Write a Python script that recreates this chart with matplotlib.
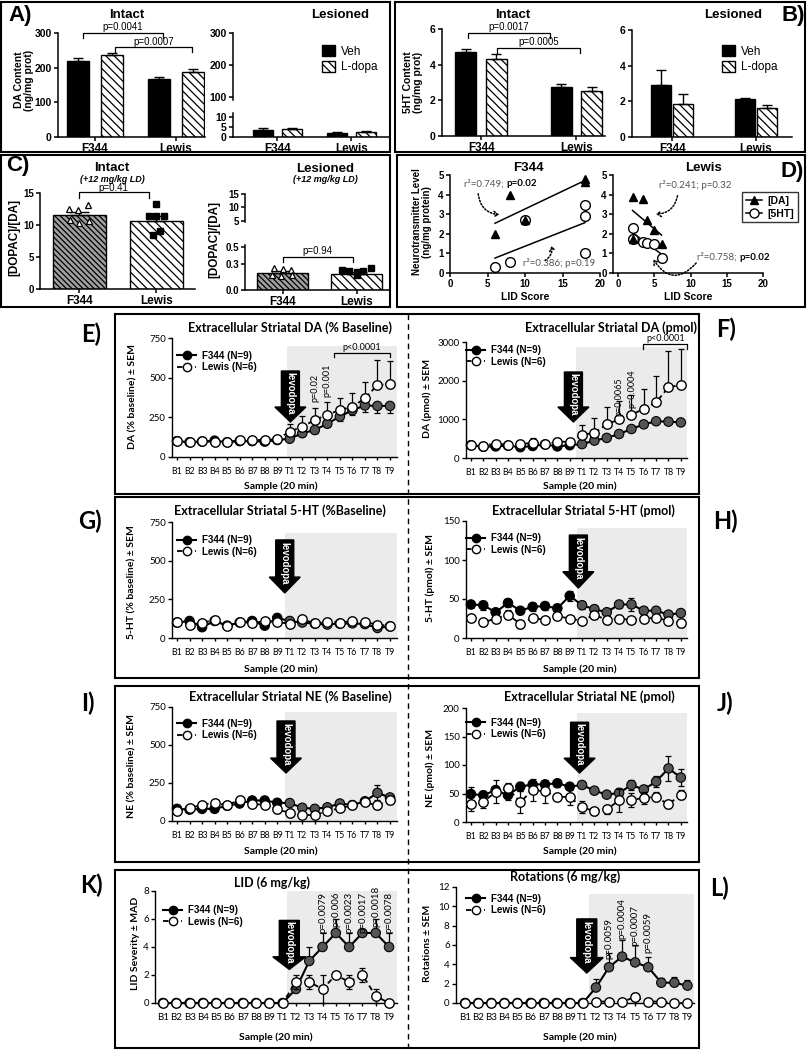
import numpy as np
import matplotlib
matplotlib.use('Agg')
import matplotlib.pyplot as plt
from matplotlib.patches import Rectangle, Polygon, Patch, FancyArrowPatch
from matplotlib.lines import Line2D

plt.rcParams['hatch.linewidth'] = 0.9
F_SANS = ['Liberation Sans', 'DejaVu Sans']
F_CAL = ['Lato', 'DejaVu Sans']
plt.rcParams['font.family'] = F_SANS

# ======================= DATA =======================
groups = ['F344', 'Lewis']
treatments = ['Veh', 'L-dopa']

A_intact_veh = [218, 168]
A_intact_veh_sem = [9, 4]
A_intact_ldopa = [237, 188]
A_intact_ldopa_sem = [5, 8]
A_les_veh = [3.5, 2.0]
A_les_veh_sem = [1.2, 0.4]
A_les_ldopa = [4.0, 2.6]
A_les_ldopa_sem = [0.4, 0.3]
A_pvals = ['p=0.0041', 'p=0.0007']

B_intact_veh = [4.72, 2.75]
B_intact_veh_sem = [0.15, 0.18]
B_intact_ldopa = [4.3, 2.5]
B_intact_ldopa_sem = [0.3, 0.25]
B_les_veh = [2.9, 2.15]
B_les_veh_sem = [0.85, 0.05]
B_les_ldopa = [1.85, 1.6]
B_les_ldopa_sem = [0.55, 0.2]
B_pvals = ['p=0.0017', 'p=0.0005']

C_intact_mean = [11.6, 10.7]
C_intact_sem = [0.5, 0.7]
C_intact_f344_pts = [12.5, 12.4, 13.1, 10.8, 10.3, 10.7]
C_intact_lewis_pts = [13.3, 11.4, 11.4, 11.4, 8.5, 9.0]
C_les_mean = [0.20, 0.19]
C_les_sem = [0.02, 0.02]
C_les_f344_pts = [0.25, 0.24, 0.23, 0.17, 0.16, 0.17]
C_les_lewis_pts = [0.23, 0.22, 0.21, 0.22, 0.26, 0.17]
C_pvals = ['p=0.41', 'p=0.94']

D_f344_lid_da = [6, 8, 10, 18, 18]
D_f344_da = [2.0, 4.0, 2.7, 4.8, 4.65]
D_f344_lid_5ht = [6, 8, 10, 18, 18, 18]
D_f344_5ht = [0.3, 0.55, 2.7, 3.45, 2.9, 1.0]
D_lewis_lid_da = [2, 3.5, 4, 5, 6, 2]
D_lewis_da = [3.9, 3.8, 2.7, 2.2, 1.5, 1.75]
D_lewis_lid_5ht = [2, 2, 3.5, 4, 5, 6]
D_lewis_5ht = [2.3, 1.75, 1.6, 1.55, 1.5, 0.75]
D_f344_da_stat = ['r²=0.749; ', 'p=0.02']
D_f344_5ht_stat = 'r²=0.386; p=0.19'
D_lewis_da_stat = 'r²=0.241; p=0.32'
D_lewis_5ht_stat = ['r²=0.758; ', 'p=0.02']

samples = ['B1', 'B2', 'B3', 'B4', 'B5', 'B6', 'B7', 'B8', 'B9',
           'T1', 'T2', 'T3', 'T4', 'T5', 'T6', 'T7', 'T8', 'T9']
legend_labels = ['F344 (N=9)', 'Lewis (N=6)']

E_f344 = [100, 93, 97, 103, 93, 100, 100, 97, 107, 115, 150, 170, 210, 255, 295, 325, 322, 322]
E_f344_sem = [8, 8, 8, 8, 8, 8, 8, 8, 8, 10, 15, 18, 20, 25, 30, 40, 45, 45]
E_lewis = [100, 93, 100, 93, 93, 107, 107, 107, 113, 160, 191, 233, 267, 296, 317, 370, 454, 458]
E_lewis_sem = [8, 8, 8, 8, 8, 8, 8, 8, 10, 45, 65, 75, 80, 75, 85, 100, 155, 150]

F_f344 = [330, 290, 300, 320, 280, 310, 350, 300, 330, 360, 450, 520, 620, 750, 870, 950, 940, 920]
F_f344_sem = [30, 30, 30, 30, 30, 30, 30, 30, 30, 40, 45, 50, 55, 60, 65, 70, 70, 70]
F_lewis = [340, 320, 370, 340, 350, 400, 360, 420, 420, 600, 650, 870, 1000, 1120, 1270, 1440, 1830, 1890]
F_lewis_sem = [60, 60, 80, 60, 60, 110, 60, 90, 80, 250, 390, 450, 470, 500, 520, 690, 950, 920]

G_f344 = [100, 110, 70, 110, 80, 100, 110, 80, 130, 110, 100, 93, 87, 93, 95, 90, 65, 75]
G_f344_sem = [12, 12, 12, 12, 12, 12, 12, 12, 15, 12, 12, 12, 12, 12, 12, 12, 12, 12]
G_lewis = [105, 85, 100, 115, 75, 105, 95, 110, 105, 90, 120, 95, 105, 100, 110, 105, 85, 80]
G_lewis_sem = [12, 12, 12, 12, 12, 12, 12, 12, 12, 12, 15, 12, 12, 12, 12, 12, 12, 12]

H_f344 = [43, 42, 33, 45, 35, 40, 41, 38, 54, 42, 37, 33, 43, 43, 35, 35, 30, 32]
H_f344_sem = [5, 6, 4, 5, 4, 5, 5, 5, 6, 5, 5, 5, 5, 8, 5, 4, 4, 4]
H_lewis = [26, 20, 25, 30, 18, 26, 23, 28, 25, 22, 30, 23, 25, 23, 25, 26, 22, 19]
H_lewis_sem = [4, 4, 3, 6, 5, 4, 4, 4, 3, 4, 5, 5, 4, 3, 4, 4, 4, 5]

I_f344 = [80, 75, 80, 80, 100, 115, 135, 135, 120, 118, 87, 80, 90, 115, 105, 130, 185, 155]
I_f344_sem = [12, 10, 10, 12, 12, 12, 12, 12, 12, 15, 15, 12, 12, 15, 12, 20, 50, 25]
I_lewis = [63, 85, 106, 120, 102, 141, 113, 106, 76, 54, 37, 41, 63, 85, 102, 124, 102, 135]
I_lewis_sem = [15, 12, 15, 20, 12, 15, 15, 20, 25, 25, 20, 20, 15, 15, 15, 20, 20, 20]

J_f344 = [49, 47, 56, 47, 62, 66, 66, 68, 62, 65, 55, 48, 51, 65, 57, 71, 94, 78]
J_f344_sem = [12, 8, 8, 8, 8, 6, 6, 6, 6, 6, 6, 5, 8, 8, 8, 10, 22, 15]
J_lewis = [32, 35, 53, 59, 35, 56, 54, 44, 44, 26, 19, 22, 38, 39, 42, 44, 31, 48]
J_lewis_sem = [12, 10, 20, 10, 20, 20, 20, 6, 15, 10, 6, 8, 20, 12, 10, 8, 6, 8]

K_f344 = [0, 0, 0, 0, 0, 0, 0, 0, 0, 0, 1, 3, 4, 5, 4, 5, 5, 4]
K_f344_mad = [0, 0, 0, 0, 0, 0, 0, 0, 0, 0, 0, 1, 1, 1, 1, 0, 1, 1]
K_lewis = [0, 0, 0, 0, 0, 0, 0, 0, 0, 0, 1.5, 1.5, 1.0, 2.0, 1.5, 2.0, 0.5, 0]
K_lewis_mad = [0, 0, 0, 0, 0, 0, 0, 0, 0, 0, 0.5, 0.5, 1.0, 0, 0.5, 0.5, 0.5, 0]
K_pvals = ['p=0.0079', 'p=0.006', 'p=0.0023', 'p=0.0017', 'p=0.0018', 'p=0.0078']

L_f344 = [0, 0, 0, 0, 0, 0, 0, 0, 0, 0, 1.6, 3.7, 4.8, 4.2, 3.7, 2.1, 2.1, 1.8]
L_f344_sem = [0, 0, 0, 0, 0, 0, 0, 0, 0, 0, 0.9, 1.5, 1.7, 1.8, 1.1, 0.5, 0.6, 0.6]
L_lewis = [0, 0, 0, 0, 0, 0, 0, 0, 0, 0, 0.15, 0.15, 0.15, 0.6, 0.15, 0.15, 0, 0]
L_lewis_sem = [0, 0, 0, 0, 0, 0, 0, 0, 0, 0, 0, 0, 0, 0.4, 0, 0, 0, 0]
L_pvals = ['p=0.0059', 'p=0.0004', 'p=0.0007', 'p=0.0059']

# ======================= HELPERS =======================
W, H = 808, 1050
fig = plt.figure(figsize=(W / 100, H / 100), dpi=100)


def ax_px(l, t, r, b):
    return fig.add_axes([l / W, 1 - b / H, (r - l) / W, (b - t) / H])


def ftext(x, y, s, **kw):
    kw.setdefault('ha', 'center')
    kw.setdefault('va', 'center')
    return fig.text(x / W, 1 - y / H, s, **kw)


def fbox(l, t, r, b, lw=1.5):
    fig.add_artist(Rectangle((l / W, 1 - b / H), (r - l) / W, (b - t) / H,
                             transform=fig.transFigure, fill=False, lw=lw, ec='black'))


def style_axes(ax, lw=1.1):
    for s in ('top', 'right'):
        ax.spines[s].set_visible(False)
    for s in ('left', 'bottom'):
        ax.spines[s].set_linewidth(lw)
    ax.tick_params(axis='both', direction='out', length=3, width=lw, pad=1.5)


def tick_font(ax, size, family, weight):
    for lab in ax.get_xticklabels() + ax.get_yticklabels():
        lab.set_fontsize(size)
        lab.set_family(family)
        lab.set_fontweight(weight)


def bracket(ax, x0, x1, y, ytip, label, ytext, xtext=None, fs=7):
    ax.plot([x0, x0, x1, x1], [ytip, y, y, ytip], color='black', lw=0.9, clip_on=False)
    ax.text((x0 + x1) / 2 if xtext is None else xtext, ytext, label, ha='center',
            va='center', fontsize=fs, clip_on=False)


HATCH = '\\\\\\\\'


def grouped_bars(ax, off, w, veh, veh_sem, ld, ld_sem):
    x = np.arange(len(groups))
    ax.bar(x - off, veh, w, color='black', edgecolor='black', lw=1, zorder=2)
    ax.bar(x + off, ld, w, color='white', edgecolor='black', hatch=HATCH, lw=1, zorder=2)
    z = np.zeros(len(groups))
    ax.errorbar(x - off, veh, yerr=[z, veh_sem], fmt='none', ecolor='black',
                elinewidth=1, capsize=3.5, capthick=1, zorder=3)
    ax.errorbar(x + off, ld, yerr=[z, ld_sem], fmt='none', ecolor='black',
                elinewidth=1, capsize=3.5, capthick=1, zorder=3)


def bar_legend(ax, xpx, ypx):
    hs = [Patch(facecolor='black', edgecolor='black'),
          Patch(facecolor='white', edgecolor='black', hatch=HATCH)]
    ax.legend(hs, treatments, loc='upper left', bbox_to_anchor=(xpx / W, 1 - ypx / H),
              bbox_transform=fig.transFigure, frameon=False, handlelength=1.1,
              handleheight=1.1, handletextpad=0.5, labelspacing=0.25, borderpad=0,
              borderaxespad=0, prop={'family': F_SANS, 'size': 8.5})


# ======================= PANEL A =======================
xg = np.arange(len(groups))
axA1 = ax_px(58, 33, 205, 137)
style_axes(axA1)
axA1.set_xlim(-0.457, 1.358)
axA1.set_ylim(0, 300)
grouped_bars(axA1, 0.21, 0.26, A_intact_veh, A_intact_veh_sem, A_intact_ldopa, A_intact_ldopa_sem)
axA1.set_yticks([0, 100, 200, 300])
axA1.set_xticks(xg, groups)
tick_font(axA1, 7.5, F_SANS, 'bold')
for lab in axA1.get_xticklabels():
    lab.set_fontsize(8.5)
bracket(axA1, -0.15, 0.84, 300, 285, A_pvals[0], 316)
bracket(axA1, 0.25, 1.2, 260, 246, A_pvals[1], 275)

axA2t = ax_px(233, 33, 390, 100)
style_axes(axA2t)
axA2t.spines['bottom'].set_visible(False)
axA2t.set_xlim(-0.6, 1.52)
axA2t.set_ylim(90.6, 300)
axA2t.set_xticks([])
axA2t.set_yticks([100, 200, 300])
tick_font(axA2t, 7.5, F_SANS, 'bold')
axA2b = ax_px(233, 113, 390, 137)
style_axes(axA2b)
axA2b.set_xlim(-0.6, 1.52)
axA2b.set_ylim(0, 12)
grouped_bars(axA2b, 0.19, 0.27, A_les_veh, A_les_veh_sem, A_les_ldopa, A_les_ldopa_sem)
axA2b.set_yticks([0, 5, 10])
axA2b.set_xticks(xg, groups)
tick_font(axA2b, 7.5, F_SANS, 'bold')
for lab in axA2b.get_xticklabels():
    lab.set_fontsize(8.5)
bar_legend(axA2b, 322, 45)

ftext(20, 16, 'A)', fontsize=16, fontweight='bold')
ftext(127, 15, 'Intact', fontsize=9.5, fontweight='bold')
ftext(340, 15, 'Lesioned', fontsize=9.5, fontweight='bold')
ftext(24, 80, 'DA Content\n(ng/mg prot)', fontsize=7.5, fontweight='bold', rotation=90,
      linespacing=1.1)

# ======================= PANEL B =======================
axB1 = ax_px(442, 29, 605, 136)
style_axes(axB1)
axB1.set_xlim(-0.41, 1.3)
axB1.set_ylim(0, 6)
grouped_bars(axB1, 0.16, 0.22, B_intact_veh, B_intact_veh_sem, B_intact_ldopa, B_intact_ldopa_sem)
axB1.set_yticks([0, 2, 4, 6])
axB1.set_xticks(xg, groups)
tick_font(axB1, 7.5, F_SANS, 'bold')
for lab in axB1.get_xticklabels():
    lab.set_fontsize(8.5)
bracket(axB1, -0.14, 0.72, 5.76, 5.48, B_pvals[0], 6.1)
bracket(axB1, 0.17, 1.04, 4.95, 4.67, B_pvals[1], 5.28)

axB2 = ax_px(632, 30, 792, 137)
style_axes(axB2)
axB2.set_xlim(-0.48, 1.43)
axB2.set_ylim(0, 6)
grouped_bars(axB2, 0.13, 0.24, B_les_veh, B_les_veh_sem, B_les_ldopa, B_les_ldopa_sem)
axB2.set_yticks([0, 2, 4, 6])
axB2.set_xticks(xg, groups)
tick_font(axB2, 7.5, F_SANS, 'bold')
for lab in axB2.get_xticklabels():
    lab.set_fontsize(8.5)
bar_legend(axB2, 722, 45)

ftext(793, 16, 'B)', fontsize=16, fontweight='bold')
ftext(513, 15, 'Intact', fontsize=9.5, fontweight='bold')
ftext(733, 15, 'Lesioned', fontsize=9.5, fontweight='bold')
ftext(413, 82, '5HT Content\n(ng/mg prot)', fontsize=7.5, fontweight='bold', rotation=90,
      linespacing=1.1)

# ======================= PANEL C =======================
f344_off = [-0.14, -0.02, 0.11, -0.12, 0.0, 0.12]
lewis_off = [0.0, -0.1, 0.0, 0.1, -0.05, 0.05]
les_f_off = [-0.12, 0.0, 0.11, -0.14, -0.02, 0.12]
les_l_off = [-0.2, -0.1, 0.0, 0.08, 0.19, 0.0]


def c_bars(ax, means, sems, fpts, lpts, foff, loff, ms):
    ax.bar([0], [means[0]], 0.69, color='#a0a0a0', edgecolor='black', hatch='\\\\\\\\\\\\',
           lw=1, zorder=2)
    ax.bar([1], [means[1]], 0.69, color='white', edgecolor='black', hatch=HATCH, lw=1, zorder=2)
    ax.errorbar(xg, means, yerr=[np.zeros(2), sems], fmt='none', ecolor='black',
                elinewidth=1, capsize=7, capthick=1, zorder=3)
    ax.plot(np.array(foff), fpts, '^', ms=ms, mfc='white', mec='black', mew=0.9,
            ls='none', zorder=4, clip_on=False)
    ax.plot(1 + np.array(loff), lpts, 's', ms=ms - 1, mfc='black', mec='black',
            ls='none', zorder=4, clip_on=False)


axC1 = ax_px(40, 193, 195, 289)
style_axes(axC1)
axC1.set_xlim(-0.51, 1.5)
axC1.set_ylim(0, 15)
c_bars(axC1, C_intact_mean, C_intact_sem, C_intact_f344_pts, C_intact_lewis_pts,
       f344_off, lewis_off, 5)
axC1.set_yticks([0, 5, 10, 15])
axC1.set_xticks(xg, groups)
tick_font(axC1, 7, F_SANS, 'bold')
for lab in axC1.get_xticklabels():
    lab.set_fontsize(8.5)
bracket(axC1, 0.0, 0.9, 15.1, 14.2, C_pvals[0], 15.8, xtext=0.44)

axC2t = ax_px(245, 194, 390, 222)
style_axes(axC2t)
axC2t.spines['bottom'].set_visible(False)
axC2t.set_xlim(-0.51, 1.45)
axC2t.set_ylim(4.6, 15)
axC2t.set_xticks([])
axC2t.set_yticks([5, 10, 15])
tick_font(axC2t, 7, F_SANS, 'bold')
axC2b = ax_px(245, 245, 390, 290)
style_axes(axC2b)
axC2b.set_xlim(-0.51, 1.45)
axC2b.set_ylim(0, 0.523)
c_bars(axC2b, C_les_mean, C_les_sem, C_les_f344_pts, C_les_lewis_pts,
       les_f_off, les_l_off, 5)
axC2b.set_yticks([0, 0.3, 0.5], ['0.0', '0.3', '0.5'])
axC2b.set_xticks(xg, groups)
tick_font(axC2b, 7, F_SANS, 'bold')
for lab in axC2b.get_xticklabels():
    lab.set_fontsize(8.5)
bracket(axC2b, 0.0, 0.95, 0.387, 0.33, C_pvals[1], 0.45, xtext=0.47)

ftext(18, 166, 'C)', fontsize=16, fontweight='bold')
ftext(112, 168, 'Intact', fontsize=9.5, fontweight='bold')
ftext(112, 179, '(+12 mg/kg LD)', fontsize=6.5, fontweight='bold', style='italic')
ftext(325, 169, 'Lesioned', fontsize=9.5, fontweight='bold')
ftext(325, 179, '(+12 mg/kg LD)', fontsize=6.5, fontweight='bold', style='italic')
ftext(14, 238, '[DOPAC]/[DA]', fontsize=8.5, fontweight='bold', rotation=90)
ftext(214, 240, '[DOPAC]/[DA]', fontsize=8.5, fontweight='bold', rotation=90)

# ======================= PANEL D =======================
def d_axes(l, r, xmin):
    ax = ax_px(l, 175, r, 273)
    style_axes(ax)
    ax.set_xlim(xmin, 20)
    ax.set_ylim(0, 5)
    ax.set_xticks([0, 5, 10, 15, 20])
    ax.set_yticks([0, 1, 2, 3, 4, 5])
    tick_font(ax, 7, F_SANS, 'bold')
    ax.set_xlabel('LID Score', fontsize=7.5, fontweight='bold', labelpad=2)
    return ax


def d_scatter(ax, xda, yda, x5, y5):
    ax.plot(x5, y5, 'o', ms=7, mfc='white', mec='black', mew=1, ls='none', zorder=3,
            clip_on=False)
    ax.plot(xda, yda, '^', ms=5.5, mfc='black', mec='black', ls='none', zorder=4,
            clip_on=False)
    for xs_, ys_ in ((xda, yda), (x5, y5)):
        k, c = np.polyfit(xs_, ys_, 1)
        xx = np.array([min(xs_), max(xs_)])
        ax.plot(xx, k * xx + c, color='black', lw=1.1, zorder=2)


axD1 = d_axes(450, 600, 0)
d_scatter(axD1, D_f344_lid_da, D_f344_da, D_f344_lid_5ht, D_f344_5ht)
axD2 = d_axes(613, 763, -0.7)
d_scatter(axD2, D_lewis_lid_da, D_lewis_da, D_lewis_lid_5ht, D_lewis_5ht)

ftext(528, 168, 'F344', fontsize=9.5, fontweight='bold')
ftext(703, 168, 'Lewis', fontsize=9.5, fontweight='bold')
ftext(792, 171, 'D)', fontsize=16, fontweight='bold')
ftext(422, 222, 'Neurotransmitter Level\n(ng/mg protein)', fontsize=7, fontweight='bold',
      rotation=90, linespacing=1.1)
GRAY = '#555555'
ftext(506, 184, D_f344_da_stat[0], ha='right', fontsize=7, color=GRAY, family=F_CAL)
ftext(506, 184, D_f344_da_stat[1], ha='left', fontsize=7, fontweight='bold', family=F_CAL)
ftext(559, 263, D_f344_5ht_stat, fontsize=7, color=GRAY, family=F_CAL)
ftext(695, 185, D_lewis_da_stat, fontsize=7, color=GRAY, family=F_CAL)
ftext(739, 257, D_lewis_5ht_stat[0], ha='right', fontsize=7, color=GRAY, family=F_CAL)
ftext(739, 257, D_lewis_5ht_stat[1], ha='left', fontsize=7, fontweight='bold', family=F_CAL)


def dotted_arrow(p0, p1, rad):
    a = FancyArrowPatch((p0[0] / W, 1 - p0[1] / H), (p1[0] / W, 1 - p1[1] / H),
                        transform=fig.transFigure, connectionstyle=f'arc3,rad={rad}',
                        arrowstyle='->,head_length=3,head_width=2', ls=(0, (1, 1.2)),
                        lw=1.1, color='black', mutation_scale=1)
    fig.add_artist(a)


dotted_arrow((478, 191), (502, 215), 0.45)
dotted_arrow((543, 262), (551, 243), 0.4)
dotted_arrow((678, 193), (653, 214), -0.45)
dotted_arrow((698, 261), (652, 257), -0.7)

hd = [Line2D([], [], color='black', lw=1.1, marker='^', ms=5.5, mfc='black', mec='black'),
      Line2D([], [], color='black', lw=1.1, marker='o', ms=6.5, mfc='white', mec='black')]
legD = axD2.legend(hd, ['[DA]', '[5HT]'], loc='upper right', bbox_to_anchor=(798 / W, 1 - 192 / H),
                   bbox_transform=fig.transFigure, frameon=True, fancybox=False,
                   handlelength=1.6, handletextpad=0.5, labelspacing=0.3, borderpad=0.35,
                   borderaxespad=0, prop={'family': F_SANS, 'size': 7.5, 'weight': 'bold'})
legD.get_frame().set_edgecolor('black')
legD.get_frame().set_linewidth(1.0)

# ======================= TIME SERIES PANELS =======================
xs = np.arange(len(samples))


def ts_panel(l, t, r, b, xlim, ytop, yticks, fv, flo, fhi, lv, llo, lhi, shade_x0,
             shade_top, tick_fs):
    ax = ax_px(l, t, r, b)
    style_axes(ax, lw=1.0)
    ax.set_xlim(*xlim)
    ax.set_ylim(0, ytop)
    ax.add_patch(Rectangle((shade_x0, 0), xlim[1] - shade_x0, shade_top, fc='#ebebeb',
                           ec='none', zorder=0))
    ax.errorbar(xs, fv, yerr=[flo, fhi], fmt='none', ecolor='black', elinewidth=0.9,
                capsize=2, capthick=0.9, zorder=2, clip_on=False)
    ax.plot(xs, fv, '-', color='black', lw=1.5, zorder=3)
    fcols = ['black' if s.startswith('B') else '#555555' for s in samples]
    ax.scatter(xs, fv, s=46, c=fcols, edgecolors='black', linewidths=0.8, zorder=4,
               clip_on=False)
    ax.errorbar(xs, lv, yerr=[llo, lhi], fmt='none', ecolor='black', elinewidth=0.9,
                capsize=2, capthick=0.9, zorder=5, clip_on=False)
    ax.plot(xs, lv, ls=(0, (3, 2)), color='black', lw=1.3, zorder=5)
    ax.scatter(xs, lv, s=46, c='white', edgecolors='black', linewidths=1.0, zorder=6,
               clip_on=False)
    ax.set_yticks(yticks)
    ax.set_xticks(xs, samples)
    ax.tick_params(axis='x', length=2, pad=5)
    tick_font(ax, 7, F_CAL, 'normal')
    for lab in ax.get_xticklabels():
        lab.set_fontsize(tick_fs)
    return ax


def ts_legend(ax, xpx, ypx, fs=7):
    h1 = Line2D([], [], color='black', lw=1.5, marker='o', ms=6, mfc='black', mec='black')
    h2 = Line2D([], [], color='black', lw=1.3, ls=(0, (3, 2)), marker='o', ms=6,
                mfc='white', mec='black')
    ax.legend([h1, h2], legend_labels, loc='center left', bbox_to_anchor=(xpx / W, 1 - ypx / H),
              bbox_transform=fig.transFigure, frameon=False, handlelength=2.0,
              handletextpad=0.6, labelspacing=0.15, borderpad=0, borderaxespad=0,
              prop={'family': F_SANS, 'size': fs, 'weight': 'bold'})


def levodopa(ax, xc, y_top, y_head, y_tip, shaft_px=9, head_px=15.5, fs=7):
    bb = ax.get_position()
    x0, x1 = ax.get_xlim()
    ppx = bb.width * W / (x1 - x0)
    hs, hh = shaft_px / ppx, head_px / ppx
    pts = [(xc - hs, y_top), (xc + hs, y_top), (xc + hs, y_head), (xc + hh, y_head),
           (xc, y_tip), (xc - hh, y_head), (xc - hs, y_head)]
    ax.add_patch(Polygon(pts, closed=True, fc='black', ec='black', zorder=8, clip_on=False))
    ax.text(xc, (y_top + y_tip) / 2 + (y_top - y_tip) * 0.06, 'levodopa', rotation=270,
            color='white', fontweight='bold', ha='center', va='center', fontsize=fs,
            zorder=9, family=F_SANS)


def rot_p(ax, xi, y, s, va='center', fs=6.5):
    ax.text(xi, y, s, rotation=90, ha='center', va=va, fontsize=fs, family=F_CAL, zorder=9,
            clip_on=False)


z18 = np.zeros(len(samples))
XL_E = (-0.4, 17.56)
XL_F = (-0.4, 17.5)

# E
axE = ts_panel(172, 338, 397, 457, XL_E, 750, [0, 250, 500, 750],
               E_f344, E_f344_sem, z18, E_lewis, z18, E_lewis_sem, 8.8, 700, 6.3)
levodopa(axE, 9.05, 542, 315, 221)
rot_p(axE, 11, 435, 'p=0.02')
rot_p(axE, 12, 485, 'p=0.001')
bracket(axE, 12.5, 17.0, 655, 630, 'p<0.0001', 693, fs=6.5)
axE.texts[-1].set_family(F_CAL)
ts_legend(axE, 177, 361.5)

# F
axF = ts_panel(466, 342, 687, 458, XL_F, 3000, [0, 1000, 2000, 3000],
               F_f344, F_f344_sem, z18, F_lewis, z18, F_lewis_sem, 8.5, 2870, 6.3)
levodopa(axF, 8.3, 2224, 1319, 931)
rot_p(axF, 12, 1585, 'p=0.0065')
rot_p(axF, 13, 1803, 'p=0.0004')
bracket(axF, 13.9, 17.5, 2948, 2820, 'p<0.0001', 3095, xtext=15.8, fs=6.5)
axF.texts[-1].set_family(F_CAL)
ts_legend(axF, 466, 356)

# G
axG = ts_panel(172, 522, 397, 638, XL_E, 750, [0, 250, 500, 750],
               G_f344, G_f344_sem, G_f344_sem, G_lewis, G_lewis_sem, G_lewis_sem, 8.6, 680, 6.3)
levodopa(axG, 8.6, 634, 394, 291)
ts_legend(axG, 177, 546)

# H
axH = ts_panel(466, 521, 687, 638, XL_F, 150, [0, 50, 100, 150],
               H_f344, H_f344_sem, H_f344_sem, H_lewis, H_lewis_sem, H_lewis_sem, 8.6, 141, 6.3)
levodopa(axH, 8.7, 132, 85, 64)
ts_legend(axH, 466, 544)

# I
axI = ts_panel(172, 707, 397, 821, XL_E, 750, [0, 250, 500, 750],
               I_f344, I_f344_sem, I_f344_sem, I_lewis, I_lewis_sem, I_lewis_sem, 8.6, 717, 6.3)
levodopa(axI, 8.7, 658, 414, 316)
ts_legend(axI, 177, 729.5)

# J
axJ = ts_panel(466, 708, 687, 822, XL_F, 200, [0, 50, 100, 150, 200],
               J_f344, J_f344_sem, J_f344_sem, J_lewis, J_lewis_sem, J_lewis_sem, 8.6, 191, 6.3)
levodopa(axJ, 8.8, 175, 112, 86)
ts_legend(axJ, 466, 728.5)

# K
axK = ts_panel(155, 891, 397, 1003, (-0.6, 17.6), 8, [0, 2, 4, 6, 8],
               K_f344, z18, K_f344_mad, K_lewis, K_lewis_mad, K_lewis_mad, 9.3, 8, 7)
levodopa(axK, 9.5, 5.9, 3.3, 2.4, shaft_px=10, head_px=16.5)
for i, s in enumerate(K_pvals):
    rot_p(axK, 12 + i, 8.4 if s == 'p=0.0018' else 7.95, s, va='top', fs=7)
ts_legend(axK, 163, 916)

# L
axL = ts_panel(456, 887, 694, 1003, (-0.7, 17.5), 12, [0, 2, 4, 6, 8, 10, 12],
               L_f344, z18, L_f344_sem, L_lewis, L_lewis_sem, L_lewis_sem, 9.5, 11.3, 7)
levodopa(axL, 9.3, 8.7, 4.7, 3.1, shaft_px=10, head_px=16.5)
for i, (s, yt) in enumerate(zip(L_pvals, [8.8, 10.9, 10.1, 9.4])):
    rot_p(axL, 11 + i, yt, s, va='top', fs=7)
ts_legend(axL, 466, 904.5)

# titles / labels for time series
TT = dict(fontsize=9, fontweight='bold', family=F_CAL)
ftext(290, 328, 'Extracellular Striatal DA (% Baseline)', **TT)
ftext(611, 328, 'Extracellular Striatal DA (pmol)', **TT)
ftext(280, 511, 'Extracellular Striatal 5-HT (%Baseline)', **TT)
ftext(583, 511, 'Extracellular Striatal 5-HT (pmol)', **TT)
ftext(290, 697, 'Extracellular Striatal NE (% Baseline)', **TT)
ftext(589, 697, 'Extracellular Striatal NE (pmol)', **TT)
ftext(272, 883, 'LID (6 mg/kg)', **TT)
ftext(565, 877, 'Rotations (6 mg/kg)', **TT)

YL = dict(fontsize=7.5, fontweight='bold', rotation=90, family=F_CAL)
ftext(133, 397, 'DA (% baseline) ± SEM', **YL)
ftext(427, 398, 'DA (pmol) ± SEM', **YL)
ftext(132, 582, '5-HT (% baseline) ± SEM', **YL)
ftext(430, 578, '5-HT (pmol) ± SEM', **YL)
ftext(132, 766, 'NE (% baseline) ± SEM', **YL)
ftext(430, 768, 'NE (pmol) ± SEM', **YL)
ftext(135, 943, 'LID Severity ± MAD', **YL)
ftext(427, 943, 'Rotations ± SEM', **YL)

SL = dict(fontsize=7.5, fontweight='bold', family=F_CAL)
for y in (486, 669, 851, 1037):
    ftext(281 if y != 1037 else 276, y, 'Sample (20 min)', **SL)
    ftext(580, y, 'Sample (20 min)', **SL)

PL = dict(fontsize=17, fontweight='bold', family=F_CAL)
ftext(91, 334, 'E)', **PL)
ftext(726, 329, 'F)', **PL)
ftext(90, 521, 'G)', **PL)
ftext(725, 521, 'H)', **PL)
ftext(88, 703, 'I)', **PL)
ftext(725, 703, 'J)', **PL)
ftext(91, 885, 'K)', **PL)
ftext(720, 888, 'L)', **PL)

# ======================= FRAMES =======================
fbox(1, 2, 390, 152)
fbox(395, 2, 805, 152)
fbox(1, 155, 390, 307)
fbox(397, 155, 805, 307)
fbox(115, 314, 699, 494)
fbox(115, 497, 699, 678)
fbox(115, 686, 699, 862)
fbox(115, 870, 699, 1048)
fig.add_artist(Line2D([408 / W, 408 / W], [1 - 314 / H, 1 - 1048 / H], transform=fig.transFigure,
                      ls=(0, (4, 3)), color='black', lw=1.0))

fig.savefig('out.png', dpi=100)
